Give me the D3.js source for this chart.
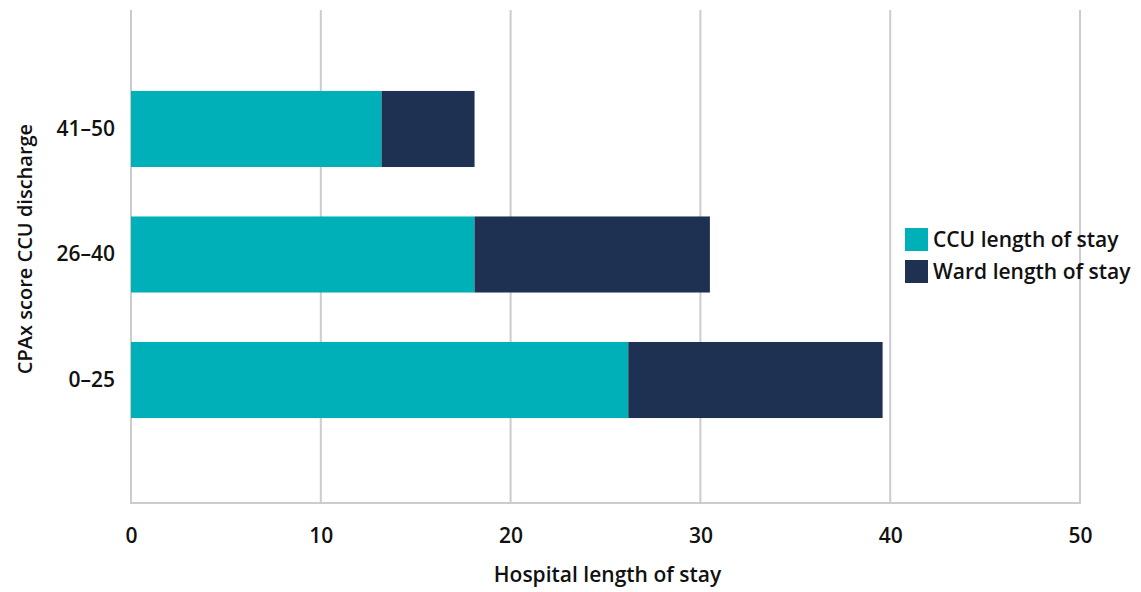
<!DOCTYPE html>
<html>
<head>
<meta charset="utf-8">
<script src="https://cdn.jsdelivr.net/npm/d3@7"></script>
<style>
  html, body { margin: 0; padding: 0; background: #ffffff; }
  svg { display: block; font-family: "Source Sans Pro", "Open Sans", Lato, sans-serif; }
</style>
</head>
<body>
<svg id="chart" width="1141" height="592"></svg>
<script>
// CPAx score band at CCU discharge (bottom to top)
const categories = ["0–25", "26–40", "41–50"];
// Days spent in CCU and on the ward for each band
const ccuStay = [26.2, 18.1, 13.2];
const wardStay = [13.4, 12.4, 4.9];
const seriesNames = ["CCU length of stay", "Ward length of stay"];
const seriesColors = ["#00b0b9", "#1f3153"];
const xTicks = [0, 10, 20, 30, 40, 50];

const FONT = "'Source Sans Pro', 'Open Sans', Lato, sans-serif";
const svg = d3.select("#chart");
const margin = { left: 131, right: 61, top: 10, bottom: 89 };
const W = 1141, H = 592;

const x = d3.scaleLinear().domain([0, 50]).range([margin.left, W - margin.right]);
const y = d3.scaleBand()
  .domain(categories.slice().reverse())
  .range([margin.top - 2, H - margin.bottom - 2])
  .paddingInner(0.394)
  .paddingOuter(0.661);

// vertical gridlines
svg.append("g")
  .selectAll("line")
  .data(xTicks)
  .join("line")
  .attr("x1", d => x(d)).attr("x2", d => x(d))
  .attr("y1", margin.top).attr("y2", H - margin.bottom)
  .attr("stroke", "#cccccc")
  .attr("stroke-width", 2);

// bottom axis line
svg.append("line")
  .attr("x1", x(0) - 1).attr("x2", x(50) + 1)
  .attr("y1", H - margin.bottom).attr("y2", H - margin.bottom)
  .attr("stroke", "#cccccc")
  .attr("stroke-width", 2);

// stacked bars
const rows = categories.map((c, i) => ({ cat: c, ccu: ccuStay[i], ward: wardStay[i] }));
const stack = d3.stack().keys(["ccu", "ward"])(rows);

svg.append("g")
  .selectAll("g")
  .data(stack)
  .join("g")
  .attr("fill", (d, i) => seriesColors[i])
  .selectAll("rect")
  .data(d => d)
  .join("rect")
  .attr("x", d => x(d[0]))
  .attr("width", d => x(d[1]) - x(d[0]))
  .attr("y", d => y(d.data.cat))
  .attr("height", y.bandwidth());

// x axis tick labels
const xAxis = d3.axisBottom(x).tickValues(xTicks).tickSize(0).tickPadding(0);
const gx = svg.append("g")
  .attr("transform", `translate(0,${H - margin.bottom})`)
  .call(xAxis);
gx.select(".domain").remove();
gx.selectAll("text")
  .attr("dy", null)
  .attr("y", 40)
  .attr("fill", "#111")
  .style("font-size", "21px")
  .style("font-weight", "600")
  .style("font-family", FONT);

// y axis category labels
const yAxis = d3.axisLeft(y).tickSize(0).tickPadding(16);
const gy = svg.append("g")
  .attr("transform", `translate(${margin.left},0)`)
  .call(yAxis);
gy.select(".domain").remove();
gy.selectAll("text")
  .attr("fill", "#111")
  .style("font-size", "21px")
  .style("font-weight", "600")
  .style("font-family", FONT);

// axis titles
svg.append("text")
  .attr("x", (x(0) + x(50)) / 2 + 2)
  .attr("y", 582)
  .attr("text-anchor", "middle")
  .attr("fill", "#111")
  .style("font-size", "21px")
  .style("font-weight", "600")
  .text("Hospital length of stay");

svg.append("text")
  .attr("transform", "translate(32,249) rotate(-90)")
  .attr("text-anchor", "middle")
  .attr("fill", "#111")
  .style("font-size", "20px")
  .style("font-weight", "600")
  .text("CPAx score CCU discharge");

// legend
const legend = svg.append("g").attr("transform", "translate(905,228)");
const items = legend.selectAll("g")
  .data(seriesNames)
  .join("g")
  .attr("transform", (d, i) => `translate(0,${i * 32})`);
items.append("rect")
  .attr("width", 23).attr("height", 23)
  .attr("fill", (d, i) => seriesColors[i]);
items.append("text")
  .attr("x", 28).attr("y", 19)
  .attr("fill", "#111")
  .style("font-size", "21px")
  .style("font-weight", "600")
  .text(d => d);
</script>
</body>
</html>
